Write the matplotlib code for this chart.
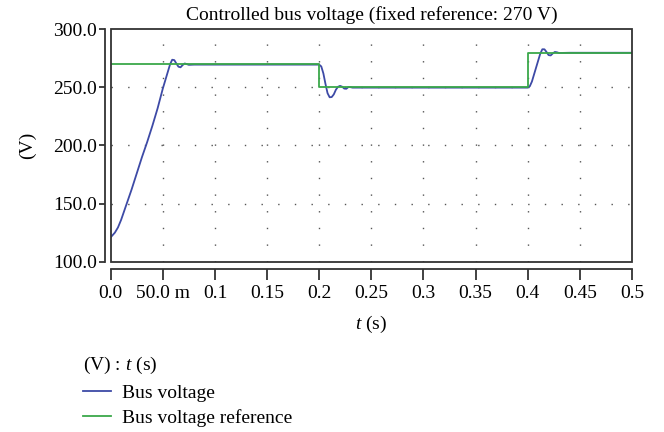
import numpy as np
import matplotlib.pyplot as plt
from matplotlib.patches import Rectangle

plt.rcParams['font.family'] = ['Liberation Serif', 'DejaVu Serif']
plt.rcParams['mathtext.fontset'] = 'custom'
plt.rcParams['mathtext.it'] = 'Liberation Serif:italic'
plt.rcParams['mathtext.rm'] = 'Liberation Serif'

# bus voltage (t in s, V in volt)
t_bus = [0.000, 0.004, 0.007, 0.010, 0.015, 0.020, 0.025, 0.030, 0.035, 0.040,
         0.045, 0.050, 0.054, 0.057, 0.059, 0.061, 0.063, 0.065, 0.067, 0.069,
         0.071, 0.073, 0.075, 0.080, 0.200, 0.202, 0.204, 0.206, 0.208, 0.210,
         0.212, 0.214, 0.216, 0.218, 0.220, 0.222, 0.224, 0.226, 0.228, 0.230,
         0.232, 0.400, 0.402, 0.404, 0.406, 0.408, 0.410, 0.412, 0.414, 0.416,
         0.418, 0.420, 0.422, 0.424, 0.426, 0.428, 0.430, 0.440, 0.500]
v_bus = [121.0, 125.0, 129.5, 136.0, 149.0, 162.0, 176.0, 190.0, 203.0, 217.0,
         232.0, 249.0, 261.0, 270.0, 273.8, 273.5, 270.5, 267.8, 267.3, 269.2,
         270.6, 270.0, 269.4, 269.6, 269.6, 268.0, 262.0, 253.0, 245.0, 241.5,
         241.7, 244.0, 248.0, 250.5, 251.3, 250.6, 249.0, 248.8, 250.3, 250.2,
         249.8, 249.8, 251.0, 255.0, 261.0, 267.0, 273.0, 279.0, 282.8, 282.8,
         280.5, 277.8, 277.5, 279.2, 280.5, 280.2, 279.6, 279.8, 279.8]

# reference (step) signal
t_ref = [0.0, 0.2, 0.2, 0.4, 0.4, 0.5]
v_ref = [270, 270, 250, 250, 280, 280]

x_ticks = [0.0, 0.05, 0.1, 0.15, 0.2, 0.25, 0.3, 0.35, 0.4, 0.45, 0.5]
x_labels = ['0.0', '50.0 m', '0.1', '0.15', '0.2', '0.25', '0.3', '0.35', '0.4', '0.45', '0.5']
y_ticks = [100, 150, 200, 250, 300]

fs = 14

fig = plt.figure(figsize=(6.64, 4.32), dpi=100)
ax = fig.add_axes([0.1667, 0.3942, 0.7851, 0.538])

l1, = ax.plot(t_bus, v_bus, color='#3d4aa6', lw=1.3, label='Bus voltage')
l2, = ax.plot(t_ref, v_ref, color='#3aa84a', lw=1.3, label='Bus voltage reference')

ax.set_xlim(0, 0.5)
ax.set_ylim(100, 300)
ax.set_xticks(x_ticks)
ax.set_xticklabels(x_labels)
ax.set_yticks(y_ticks)
ax.set_yticklabels([f'{v:.1f}' for v in y_ticks])

# dotted grid
for x in x_ticks[1:-1]:
    ax.axvline(x, color='#555555', lw=1.0, ls=(0, (1, 11)), zorder=0)
for y in y_ticks[1:-1]:
    ax.axhline(y, color='#555555', lw=1.0, ls=(0, (1, 11)), zorder=0)

# frame plus offset axis lines
ax.add_patch(Rectangle((0, 0), 1, 1, transform=ax.transAxes, fill=False,
                       ec='#333333', lw=1.3, clip_on=False, zorder=5))
for s in ['top', 'right']:
    ax.spines[s].set_visible(False)
ax.spines['left'].set_position(('outward', 4))
ax.spines['bottom'].set_position(('outward', 5))
for s in ['left', 'bottom']:
    ax.spines[s].set_color('#333333')
    ax.spines[s].set_linewidth(1.3)
ax.tick_params(axis='x', length=8, width=1.3, color='#333333', labelsize=fs, pad=4)
ax.tick_params(axis='y', length=4, width=1.3, color='#333333', labelsize=fs, pad=2)

ax.set_title('Controlled bus voltage (fixed reference: 270 V)', fontsize=fs, pad=7)
ax.set_xlabel('$t$ (s)', fontsize=fs, labelpad=8)
ax.set_ylabel('(V)', fontsize=fs, labelpad=12)

fig.legend(handles=[l1, l2], loc='upper left', bbox_to_anchor=(0.125, 0.178),
           frameon=False, title='(V) : $t$ (s)', title_fontsize=fs, fontsize=fs,
           alignment='left', handlelength=1.45, handletextpad=0.55, borderpad=0,
           borderaxespad=0, labelspacing=0.4)

fig.savefig('out.png', dpi=100)
